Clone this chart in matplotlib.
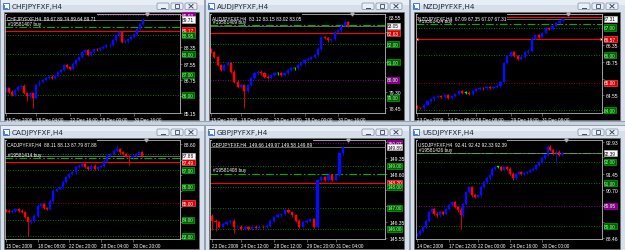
import matplotlib
matplotlib.use("Agg")
import matplotlib.pyplot as plt
import matplotlib.transforms as mtransforms
from matplotlib.patches import Rectangle, FancyBboxPatch

plt.rcParams['font.family'] = ['Liberation Sans Narrow', 'Liberation Sans', 'DejaVu Sans']

# -------------------------------
# Data
# -------------------------------
window_titles = ["CHFJPYFXF,H4", "AUDJPYFXF,H4", "NZDJPYFXF,H4",
                 "CADJPYFXF,H4", "GBPJPYFXF,H4", "USDJPYFXF,H4"]
header_quotes = ["89.67 89.74 89.64 89.71", "83.12 83.15 83.02 83.05",
                 "67.09 67.35 67.07 67.31", "88.11 88.13 87.79 87.88",
                 "149.66 149.97 149.58 149.89", "92.41 92.42 92.33 92.39"]
order_labels = ["#19581407 buy", "#19581409 buy", "#19581424 buy",
                "#19581414 buy", "#19581408 buy", "#19581426 buy"]

# CHFJPY
chf_open0 = 86.20
chf_close = [86.34, 86.18, 86.02, 86.26, 86.42, 86.47, 86.10, 85.94, 86.10, 85.86,
             86.50, 86.67, 86.75, 86.83, 86.91, 86.83, 86.96, 87.15, 87.23, 87.47,
             87.39, 87.31, 87.55, 87.72, 87.88, 88.12, 88.20, 87.96, 88.12, 88.28,
             88.25, 88.31, 88.36, 88.44, 88.48, 88.69, 88.93, 89.09, 88.61, 88.64,
             88.77, 88.85, 89.01, 89.25, 89.49, 89.71]
chf_spikes = {7: (86.12, 85.70), 9: (86.05, 85.37), 38: (89.15, 88.55)}
chf_ylim = (85.13, 89.98)
chf_ticks = [89.93, 88.35, 87.55, 86.75, 85.95, 85.15]
chf_levels = [(89.93, "purple"), (89.33, "buy"), (89.17, "sl"), (88.95, "pivot"),
              (88.00, "pivot"), (87.00, "pivot"), (86.00, "pivot")]
chf_times = ["15 Dec 2009", "18 Dec 04:00", "22 Dec 16:00", "28 Dec 00:00", "30 Dec 16:00"]
chf_time_idx = [0, 10, 21, 31, 42]

# AUDJPY
aud_open0 = 81.75
aud_close = [81.57, 81.30, 80.83, 80.56, 80.83, 80.93, 80.47, 79.91, 79.63, 79.73,
             79.36, 79.73, 80.10, 80.37, 80.47, 80.37, 80.19, 80.10, 80.28, 80.37,
             80.37, 80.28, 80.37, 80.56, 80.65, 80.65, 80.83, 80.93, 81.11, 81.20,
             81.30, 81.39, 81.76, 82.41, 82.35, 82.22, 82.31, 82.68, 82.78, 83.05,
             83.24, 83.05]
aud_spikes = {10: (79.80, 78.43), 40: (83.40, 83.00)}
aud_ylim = (78.15, 83.70)
aud_ticks = [83.55, 82.70, 81.85, 81.00, 80.15, 79.30, 78.45]
aud_levels = [(83.09, "buy"), (82.63, "sl"), (82.00, "pivot"), (81.00, "pivot"),
              (80.00, "purple"), (79.00, "pivot")]
aud_times = ["15 Dec 2009", "18 Dec 04:00", "22 Dec 16:00", "28 Dec 00:00", "30 Dec 16:00"]
aud_time_idx = [0, 9, 19, 28, 38]

# NZDJPY
nzd_open0 = 64.15
nzd_close = [64.09, 64.07, 64.20, 64.32, 64.39, 64.47, 64.51, 64.47, 64.55, 64.45,
             64.51, 64.58, 64.68, 64.64, 64.64, 64.58, 64.70, 64.77, 64.80, 64.79,
             64.83, 64.80, 64.85, 64.89, 65.02, 65.72, 65.97, 66.10, 65.97, 65.87,
             65.94, 66.10, 66.16, 66.60, 66.73, 66.67, 66.79, 66.98, 66.96, 67.05,
             67.17, 67.24, 67.31]
nzd_spikes = {}
nzd_ylim = (63.90, 67.49)
nzd_ticks = [66.35, 65.75, 65.15, 64.55, 63.95]
nzd_levels = [(67.37, "tp"), (67.11, "buy"), (67.00, "pivot"), (66.57, "sel"),
              (66.00, "pivot"), (65.00, "rpivot"), (64.00, "pivot")]
nzd_times = ["23 Dec 2009", "24 Dec 08:00", "28 Dec 08:00", "29 Dec 16:00", "31 Dec 08:00"]
nzd_time_idx = [0, 9, 17, 27, 36]

# CADJPY
cad_open0 = 84.60
cad_close = [84.56, 84.46, 84.56, 84.66, 84.56, 84.46, 84.16, 83.85, 83.95, 84.26,
             84.86, 84.96, 84.72, 84.66, 85.17, 85.77, 85.87, 85.97, 86.28, 86.58,
             86.78, 86.88, 87.19, 87.29, 87.39, 87.19, 87.08, 87.29, 87.08, 87.19,
             87.29, 87.59, 87.89, 87.99, 88.20, 88.30, 88.09, 87.99, 87.89, 87.79,
             87.89, 87.99, 88.09, 87.88]
cad_spikes = {7: (84.20, 83.04), 35: (88.52, 88.15), 39: (87.95, 87.35)}
cad_ylim = (82.84, 88.84)
cad_ticks = [88.60, 87.65, 86.70, 85.75, 84.80, 83.85, 82.90]
cad_levels = [(88.00, "pivotline"), (87.75, "buy"), (87.49, "sl"), (87.00, "pivot"),
              (86.00, "pivot"), (85.00, "rpivot"), (84.00, "pivot"), (83.00, "pivot")]
cad_times = ["15 Dec 2009", "18 Dec 08:00", "22 Dec 20:00", "28 Dec 04:00", "30 Dec 20:00"]
cad_time_idx = [0, 10, 20, 30, 40]

# GBPJPY
gbp_open0 = 146.60
gbp_close = [146.40, 146.32, 146.08, 146.24, 146.32, 146.40, 146.08, 146.11, 146.00, 146.08,
             146.00, 146.11, 146.05, 146.11, 146.08, 146.16, 146.40, 146.56, 146.64, 146.72,
             146.88, 146.80, 146.64, 146.40, 146.11, 146.32, 146.40, 146.48, 146.11, 148.32,
             148.48, 148.35, 148.56, 148.32, 148.56, 149.59, 149.89]
gbp_spikes = {0: (146.70, 145.95), 1: (146.45, 145.90), 6: (146.45, 145.80)}
gbp_ylim = (145.52, 150.23)
gbp_ticks = [150.15, 149.35, 148.60, 147.85, 147.10, 146.35, 145.55]
gbp_levels = [(150.07, "purple"), (149.00, "pivot"), (148.63, "buy"), (148.20, "sl"),
              (148.00, "pivot"), (147.00, "pivot"), (146.00, "pivot")]
gbp_times = ["23 Dec 2009", "24 Dec 12:00", "28 Dec 12:00", "29 Dec 20:00", "31 Dec 04:00"]
gbp_time_idx = [0, 8, 17, 26, 34]

# USDJPY
usd_open0 = 88.55
usd_close = [88.64, 88.79, 88.95, 89.26, 89.65, 89.81, 89.58, 89.50, 89.65, 89.58,
             89.81, 89.97, 90.12, 89.89, 89.73, 89.50, 90.04, 90.59, 90.83, 90.43,
             90.36, 90.43, 90.83, 91.06, 91.22, 91.37, 91.68, 91.76, 91.76, 91.61,
             91.76, 91.68, 91.45, 91.22, 91.45, 91.53, 91.45, 91.48, 91.53, 91.61,
             91.68, 91.84, 92.00, 92.15, 92.31, 92.70, 92.54, 92.39, 92.47, 92.31,
             92.39]
usd_spikes = {15: (89.90, 88.87), 48: (92.60, 91.92)}
usd_ylim = (88.40, 93.01)
usd_ticks = [92.93, 92.20, 91.45, 90.70, 89.95, 89.20, 88.46]
usd_levels = [(92.39, "buy"), (92.00, "pivot"), (91.00, "pivot"), (89.95, "purple"),
              (89.00, "pivot")]
usd_times = ["14 Dec 2009", "17 Dec 12:00", "22 Dec 00:00", "24 Dec 16:00", "30 Dec 00:00"]
usd_time_idx = [0, 11, 21, 32, 43]

# -------------------------------
# Layout (pixels, y downwards)
# -------------------------------
W, H = 625, 251
windows = [(0, 0, 204, 122), (205, 0, 409, 122), (410, 0, 625, 122),
           (0, 126, 204, 251), (205, 126, 409, 251), (410, 126, 625, 251)]
frames = [(5, 15, 180, 114), (210, 15, 385, 114), (416, 15, 602, 114),
          (5, 141, 180, 240), (210, 141, 385, 240), (416, 141, 602, 240)]
first_px = [6, 211, 417, 6, 212, 417]
last_px = [143, 348, 563, 142, 343, 562]

charts = [
    (chf_open0, chf_close, chf_spikes, chf_ylim, chf_ticks, chf_levels, chf_times, chf_time_idx),
    (aud_open0, aud_close, aud_spikes, aud_ylim, aud_ticks, aud_levels, aud_times, aud_time_idx),
    (nzd_open0, nzd_close, nzd_spikes, nzd_ylim, nzd_ticks, nzd_levels, nzd_times, nzd_time_idx),
    (cad_open0, cad_close, cad_spikes, cad_ylim, cad_ticks, cad_levels, cad_times, cad_time_idx),
    (gbp_open0, gbp_close, gbp_spikes, gbp_ylim, gbp_ticks, gbp_levels, gbp_times, gbp_time_idx),
    (usd_open0, usd_close, usd_spikes, usd_ylim, usd_ticks, usd_levels, usd_times, usd_time_idx),
]

BULL, BEAR, DOJI = "#0a0aff", "#ff0000", "#00ff00"
line_style = {
    "buy": dict(color="#00b000", ls=(0, (7, 2, 1.5, 2)), lw=0.8),
    "sl": dict(color="#ff0000", ls="-", lw=0.8),
    "sel": dict(color="#ff0000", ls="-", lw=0.8),
    "tp": dict(color="#ff0000", ls="-", lw=0.8),
    "pivot": dict(color="#00a000", ls=(0, (1, 2)), lw=0.6),
    "pivotline": dict(color="#00a000", ls=(0, (1, 2)), lw=0.6),
    "rpivot": dict(color="#d00000", ls=(0, (1, 2)), lw=0.6),
    "purple": dict(color="#b000b0", ls=(0, (1, 2)), lw=0.6),
}
box_style = {
    "sl": ("#e00000", "#ff6060", "white"),
    "sel": ("#e00000", "#ff6060", "white"),
    "pivot": ("#006000", "#00d000", "#a0ffa0"),
    "rpivot": ("#e00000", "#ff6060", "white"),
    "purple": ("#800080", "#d000d0", "white"),
}

fig = plt.figure(figsize=(W / 100, H / 100), dpi=100)
fig.patch.set_facecolor("#c9d3de")

bg = fig.add_axes([0, 0, 1, 1])
bg.set_xlim(0, W)
bg.set_ylim(H, 0)
bg.axis("off")


def px_axes(x0, y0, x1, y1):
    return fig.add_axes([x0 / W, 1 - y1 / H, (x1 - x0) / W, (y1 - y0) / H])


# -------------------------------
# Window chrome
# -------------------------------
for (x0, y0, x1, y1), title in zip(windows, window_titles):
    bg.add_patch(Rectangle((x0, y0), x1 - x0, y1 - y0, fc="#d7e0ea", ec="#8796a8", lw=0.6))
    bg.add_patch(Rectangle((x0 + 0.5, y0 + 0.5), x1 - x0 - 1, 5.5, fc="#e7eef6", ec="none"))
    bg.add_patch(Rectangle((x0 + 4, y0 + 13), x1 - x0 - 9, y1 - y0 - 14, fc="black", ec="#707070", lw=0.5))
    # icon
    bg.add_patch(Rectangle((x0 + 2.5, y0 + 3.5), 6, 6.5, fc="white", ec="#2f66c0", lw=0.6))
    bg.plot([x0 + 4, x0 + 4, x0 + 7], [y0 + 6, y0 + 8.5, y0 + 8.5], color="#2f66c0", lw=0.6)
    bg.text(x0 + 12, y0 + 7, title, fontsize=5.2, color="#1e2b3a", va="center", ha="left",
            family=["DejaVu Sans"])
    # min / max / close buttons
    for k, bx in enumerate([x1 - 47, x1 - 33, x1 - 19]):
        bg.add_patch(FancyBboxPatch((bx, y0 + 4), 12, 6.5, boxstyle="round,pad=0,rounding_size=1.2",
                                    fc="#e9eff6", ec="#7c8ca0", lw=0.5))
        cx, cy = bx + 6, y0 + 7.25
        if k == 0:
            bg.plot([cx - 2, cx + 2], [cy + 1.5, cy + 1.5], color="#3a4a5c", lw=0.7)
        elif k == 1:
            bg.add_patch(Rectangle((cx - 2.2, cy - 1.8), 4.4, 3.4, fc="none", ec="#3a4a5c", lw=0.6))
        else:
            bg.plot([cx - 2, cx + 2], [cy - 1.8, cy + 1.8], color="#3a4a5c", lw=0.7)
            bg.plot([cx - 2, cx + 2], [cy + 1.8, cy - 1.8], color="#3a4a5c", lw=0.7)

# -------------------------------
# Charts
# -------------------------------
for k, (open0, close, spikes, ylim, ticks, levels, times, time_idx) in enumerate(charts):
    fx0, fy0, fx1, fy1 = frames[k]
    ax = px_axes(fx0, fy0, fx1, fy1)
    ax.set_facecolor("black")
    n = len(close)
    sp = (last_px[k] - first_px[k]) / (n - 1)
    ax.set_xlim(-(first_px[k] - fx0) / sp, (fx1 - first_px[k]) / sp)
    ax.set_ylim(*ylim)
    rng = ylim[1] - ylim[0]
    pad = 0.012 * rng
    trans = mtransforms.blended_transform_factory(ax.transAxes, ax.transData)
    boxed = [close[-1]]

    # horizontal levels
    for price, kind in levels:
        st = line_style[kind]
        ax.axhline(price, color=st["color"], ls=st["ls"], lw=st["lw"], zorder=1)
        if kind == "sel":
            ax.plot([0.005, 0.995], [price, price], ls="none", marker="s", ms=1.6,
                    mfc="white", mec="#ff0000", mew=0.4, transform=trans, clip_on=False, zorder=3)
        if kind == "buy":
            ax.text(0.015, price + 0.012 * rng, order_labels[k], transform=trans, fontsize=3.4,
                    color="white", va="bottom", ha="left", zorder=4)
        if kind in box_style:
            fc, ec, tc = box_style[kind]
            boxed.append(price)
            ax.text(1.012, price, f"{price:.2f}", transform=trans, fontsize=3.4, color=tc,
                    va="center", ha="left", clip_on=False, zorder=6,
                    bbox=dict(boxstyle="square,pad=0.12", fc=fc, ec=ec, lw=0.4))

    # bid line and current price box
    last = close[-1]
    ax.axhline(last, color="#909090", lw=0.5, zorder=1)
    ax.text(1.012, last, f"{last:.2f}", transform=trans, fontsize=3.4, color="black",
            va="center", ha="left", clip_on=False, zorder=7,
            bbox=dict(boxstyle="square,pad=0.12", fc="white", ec="#c0c0c0", lw=0.4))

    # candles
    opens = [open0] + close[:-1]
    for i, (o, c) in enumerate(zip(opens, close)):
        hi, lo = spikes.get(i, (max(o, c) + pad, min(o, c) - pad))
        col = BULL if c > o else (BEAR if c < o else DOJI)
        ax.vlines(i, lo, hi, color=col, lw=0.6, zorder=2)
        h = max(abs(c - o), 0.004 * rng)
        ax.add_patch(Rectangle((i - 0.32, min(o, c)), 0.64, h, fc=col, ec=col, lw=0.3, zorder=2))

    # chart shift marker
    ax.plot(n + 0.3, ylim[1], marker="v", color="#b0b0b0", ms=2.2, clip_on=False, zorder=8)

    # header line
    ax.text(0.012, 0.992, f"{window_titles[k]}  {header_quotes[k]}", transform=ax.transAxes,
            fontsize=3.4, color="white", va="top", ha="left", zorder=9,
            bbox=dict(boxstyle="square,pad=0.1", fc="black", ec="none"))

    # axes (tick labels hidden where a price box covers them, as in the terminal)
    ax.yaxis.tick_right()
    ax.set_yticks(ticks)
    ax.set_yticklabels(["" if any(abs(t - b) < 0.05 * rng for b in boxed) else f"{t:.2f}"
                        for t in ticks])
    ax.set_xticks(time_idx)
    ax.set_xticklabels(times, ha="left")
    ax.tick_params(axis="y", colors="#a0a0a0", labelcolor="white", labelsize=3.6,
                   length=1.5, width=0.4, pad=1.5)
    ax.tick_params(axis="x", colors="#a0a0a0", labelcolor="white", labelsize=3.3,
                   length=2, width=0.4, pad=0.8)
    for s in ax.spines.values():
        s.set_color("#b8b8b8")
        s.set_linewidth(0.6)

fig.savefig("out.png", dpi=100, facecolor=fig.get_facecolor())
